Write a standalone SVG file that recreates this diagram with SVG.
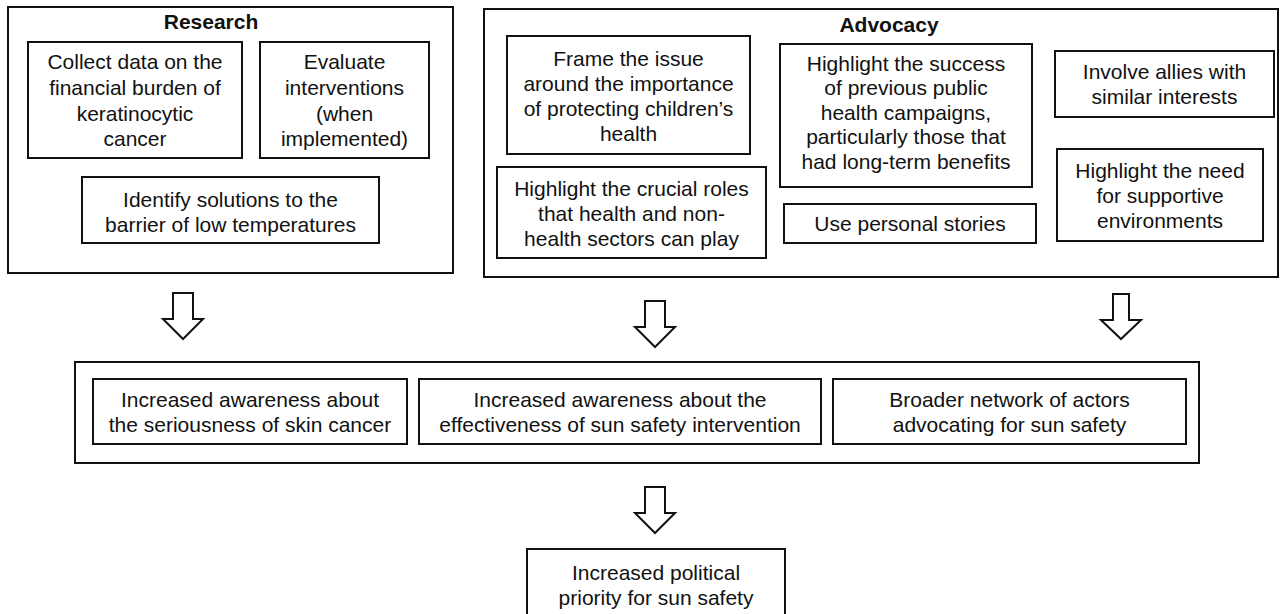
<svg xmlns="http://www.w3.org/2000/svg" width="1281" height="614" viewBox="0 0 1281 614">
<style>
rect{fill:#fff;stroke:#111;stroke-width:2}
text{font-family:"Liberation Sans",Arial,sans-serif;font-size:21px;text-anchor:middle;fill:#111}
.h{font-weight:bold}
.arrow{fill:#fff;stroke:#111;stroke-width:2;stroke-linejoin:miter}
</style>
<defs>
<path id="arw" class="arrow" d="M-10,0 V26 H-20 L0,46 L20,26 H10 V0 Z"/>
<path id="arwn" class="arrow" d="M-8,0 V26 H-20 L0,45 L20,26 H8 V0 Z"/>
</defs>
<rect width="1281" height="614" style="fill:#fff;stroke:none"/>

<g id="research">
<rect x="8" y="7" width="445" height="266"/>
<text class="h" x="211" y="29">Research</text>
</g>
<g id="collect-data">
<rect x="28" y="42" width="214" height="116"/>
<text x="135" y="69">Collect data on the</text>
<text x="135" y="95">financial burden of</text>
<text x="135" y="120.5">keratinocytic</text>
<text x="135" y="146">cancer</text>
</g>
<g id="evaluate">
<rect x="260" y="42" width="169" height="116"/>
<text x="344.5" y="69">Evaluate</text>
<text x="344.5" y="95">interventions</text>
<text x="344.5" y="120.5">(when</text>
<text x="344.5" y="146">implemented)</text>
</g>
<g id="identify">
<rect x="82" y="177" width="297" height="66"/>
<text x="230.5" y="206.5">Identify solutions to the</text>
<text x="230.5" y="232">barrier of low temperatures</text>
</g>

<g id="advocacy">
<rect x="484" y="9" width="794" height="268"/>
<text class="h" x="889" y="32">Advocacy</text>
</g>
<g id="frame-issue">
<rect x="507" y="36" width="243" height="118"/>
<text x="628.5" y="65.5">Frame the issue</text>
<text x="628.5" y="90.5">around the importance</text>
<text x="628.5" y="115.5">of protecting children’s</text>
<text x="628.5" y="140.5">health</text>
</g>
<g id="crucial-roles">
<rect x="497" y="167" width="269" height="91"/>
<text x="631.5" y="195.5">Highlight the crucial roles</text>
<text x="631.5" y="221">that health and non-</text>
<text x="631.5" y="246">health sectors can play</text>
</g>
<g id="previous-success">
<rect x="780" y="44" width="252" height="143"/>
<text x="906" y="70.5">Highlight the success</text>
<text x="906" y="95">of previous public</text>
<text x="906" y="119.5">health campaigns,</text>
<text x="906" y="144">particularly those that</text>
<text x="906" y="168.5">had long-term benefits</text>
</g>
<g id="personal-stories">
<rect x="784" y="204" width="252" height="39"/>
<text x="910" y="231">Use personal stories</text>
</g>
<g id="involve-allies">
<rect x="1055" y="51" width="219" height="66"/>
<text x="1164.5" y="79">Involve allies with</text>
<text x="1164.5" y="104">similar interests</text>
</g>
<g id="supportive-env">
<rect x="1057" y="149" width="206" height="92"/>
<text x="1160" y="178">Highlight the need</text>
<text x="1160" y="203">for supportive</text>
<text x="1160" y="228">environments</text>
</g>

<g id="outcomes">
<rect x="75" y="362" width="1124" height="101"/>
</g>
<g id="awareness-seriousness">
<rect x="93" y="379" width="314" height="65"/>
<text x="250" y="407">Increased awareness about</text>
<text x="250" y="432">the seriousness of skin cancer</text>
</g>
<g id="awareness-effectiveness">
<rect x="419" y="379" width="402" height="65"/>
<text x="620" y="407">Increased awareness about the</text>
<text x="620" y="432">effectiveness of sun safety intervention</text>
</g>
<g id="broader-network">
<rect x="833" y="379" width="353" height="65"/>
<text x="1009.5" y="407">Broader network of actors</text>
<text x="1009.5" y="432">advocating for sun safety</text>
</g>

<g id="political-priority">
<rect x="527" y="549" width="258" height="80"/>
<text x="656" y="580">Increased political</text>
<text x="656" y="605">priority for sun safety</text>
</g>

<g id="connectors">
<use href="#arw" x="183" y="293"/>
<use href="#arw" x="655" y="301"/>
<use href="#arwn" x="1121" y="294"/>
<use href="#arw" x="655" y="487"/>
</g>
</svg>
